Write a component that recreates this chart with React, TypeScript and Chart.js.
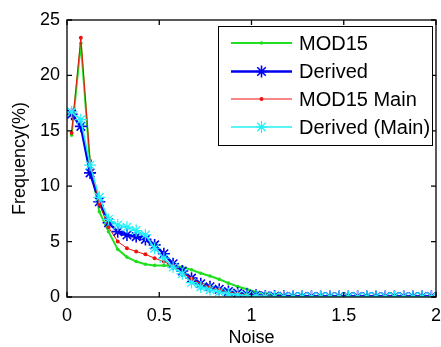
import React, { useEffect, useRef } from "react";
import { Chart, registerables } from "chart.js";

Chart.register(...registerables);

const noise = [
  0.025, 0.075, 0.125, 0.175, 0.225, 0.275, 0.325, 0.375, 0.425, 0.475,
  0.525, 0.575, 0.625, 0.675, 0.725, 0.775, 0.825, 0.875, 0.925, 0.975,
  1.025, 1.075, 1.125, 1.175, 1.225, 1.275, 1.325, 1.375, 1.425, 1.475,
  1.525, 1.575, 1.625, 1.675, 1.725, 1.775, 1.825, 1.875, 1.925, 1.975,
];

const mod15 = [
  14.6, 22.9, 12.0, 7.7, 5.9, 4.3, 3.6, 3.2, 2.95, 2.85,
  2.85, 2.8, 2.7, 2.45, 2.15, 1.9, 1.6, 1.25, 0.95, 0.7,
  0.45, 0.3, 0.2, 0.15, 0.1, 0.07, 0.06, 0.05, 0.05, 0.05,
  0.05, 0.05, 0.05, 0.05, 0.05, 0.05, 0.05, 0.05, 0.05, 0.05,
];

const derived = [
  16.5, 15.4, 11.2, 8.6, 6.7, 5.9, 5.6, 5.45, 5.2, 4.7,
  3.9, 3.0, 2.35, 1.7, 1.2, 0.93, 0.7, 0.5, 0.35, 0.25,
  0.15, 0.1, 0.08, 0.06, 0.05, 0.05, 0.05, 0.05, 0.05, 0.05,
  0.05, 0.05, 0.05, 0.05, 0.05, 0.05, 0.05, 0.05, 0.05, 0.05,
];

const mod15Main = [
  14.8, 23.4, 12.3, 8.4, 6.3, 5.0, 4.4, 4.1, 3.85, 3.5,
  3.2, 2.8, 2.2, 1.65, 1.2, 0.9, 0.65, 0.45, 0.3, 0.2,
  0.12, 0.08, 0.06, 0.05, 0.05, 0.05, 0.05, 0.05, 0.05, 0.05,
  0.05, 0.05, 0.05, 0.05, 0.05, 0.05, 0.05, 0.05, 0.05, 0.05,
];

const derivedMain = [
  16.7, 16.0, 11.9, 9.0, 7.0, 6.5, 6.3, 6.0, 5.6, 4.4,
  3.5, 2.7, 2.1, 1.3, 0.9, 0.65, 0.45, 0.3, 0.2, 0.12,
  0.08, 0.05, 0.03, 0.02, 0.02, 0.02, 0.02, 0.02, 0.02, 0.02,
  0.02, 0.02, 0.02, 0.02, 0.02, 0.02, 0.02, 0.02, 0.02, 0.02,
];

const seriesNames = ["MOD15", "Derived", "MOD15 Main", "Derived (Main)"];
const xTicks = [0, 0.5, 1, 1.5, 2];
const xTickLabels = ["0", "0.5", "1", "1.5", "2"];
const yTicks = [0, 5, 10, 15, 20, 25];
const yTickLabels = ["0", "5", "10", "15", "20", "25"];

const FONT = "'Liberation Sans', Arial, sans-serif";

const toPoints = (vals: number[]) => vals.map((v, i) => ({ x: noise[i], y: v }));

function drawMarker(ctx: CanvasRenderingContext2D, style: string, x: number, y: number, r: number, color: string, lw: number) {
  ctx.save();
  if (style === "circle") {
    ctx.fillStyle = color;
    ctx.beginPath();
    ctx.arc(x, y, r, 0, Math.PI * 2);
    ctx.fill();
  } else {
    ctx.strokeStyle = color;
    ctx.lineWidth = lw;
    ctx.beginPath();
    for (let k = 0; k < 4; k++) {
      const a = (k * Math.PI) / 4;
      ctx.moveTo(x - r * Math.cos(a), y - r * Math.sin(a));
      ctx.lineTo(x + r * Math.cos(a), y + r * Math.sin(a));
    }
    ctx.stroke();
  }
  ctx.restore();
}

const framePlugin = {
  id: "frame",
  afterDatasetsDraw(chart: any) {
    const { ctx, chartArea: a, scales } = chart;
    ctx.save();
    ctx.strokeStyle = "#000";
    ctx.lineWidth = 1.3;
    ctx.strokeRect(a.left, a.top, a.right - a.left, a.bottom - a.top);
    const tl = 5;
    ctx.beginPath();
    xTicks.forEach((t) => {
      const px = scales.x.getPixelForValue(t);
      ctx.moveTo(px, a.bottom);
      ctx.lineTo(px, a.bottom - tl);
      ctx.moveTo(px, a.top);
      ctx.lineTo(px, a.top + tl);
    });
    yTicks.forEach((t) => {
      const py = scales.y.getPixelForValue(t);
      ctx.moveTo(a.left, py);
      ctx.lineTo(a.left + tl, py);
      ctx.moveTo(a.right, py);
      ctx.lineTo(a.right - tl, py);
    });
    ctx.stroke();

    // legend
    const lx = 218, ly = 26, lw = 214, lh = 119;
    ctx.fillStyle = "#fff";
    ctx.fillRect(lx, ly, lw, lh);
    ctx.strokeStyle = "#000";
    ctx.lineWidth = 1;
    ctx.strokeRect(lx + 0.5, ly + 0.5, lw, lh);
    const rows = [43, 71.5, 99, 127];
    chart.data.datasets.forEach((ds: any, i: number) => {
      const y = rows[i];
      ctx.strokeStyle = ds.borderColor;
      ctx.lineWidth = ds.borderWidth;
      ctx.beginPath();
      ctx.moveTo(231, y);
      ctx.lineTo(292, y);
      ctx.stroke();
      drawMarker(ctx, ds.pointStyle, 261.5, y, ds.pointRadius, ds.pointBorderColor, ds.pointBorderWidth);
      ctx.fillStyle = "#000";
      ctx.font = `20px ${FONT}`;
      ctx.textAlign = "left";
      ctx.textBaseline = "middle";
      ctx.fillText(ds.label, 299, y + 1);
    });
    ctx.restore();
  },
};

export default function App() {
  const ref = useRef<HTMLCanvasElement>(null);
  useEffect(() => {
    if (!ref.current) return;
    const chart = new Chart(ref.current, {
      type: "line",
      data: {
        datasets: [
          {
            label: seriesNames[0],
            data: toPoints(mod15),
            borderColor: "#1fe01f",
            backgroundColor: "#1fe01f",
            borderWidth: 2,
            pointStyle: "circle",
            pointRadius: 1.8,
            pointBorderColor: "#1fe01f",
            pointBackgroundColor: "#1fe01f",
            pointBorderWidth: 0,
            order: 4,
          },
          {
            label: seriesNames[1],
            data: toPoints(derived),
            borderColor: "#0000f0",
            backgroundColor: "#0000f0",
            borderWidth: 2.5,
            pointStyle: "star",
            pointRadius: 6,
            pointBorderColor: "#0000f0",
            pointBorderWidth: 1.6,
            order: 3,
          },
          {
            label: seriesNames[2],
            data: toPoints(mod15Main),
            borderColor: "#f01010",
            backgroundColor: "#f01010",
            borderWidth: 1,
            pointStyle: "circle",
            pointRadius: 2,
            pointBorderColor: "#f01010",
            pointBackgroundColor: "#f01010",
            pointBorderWidth: 0,
            order: 2,
          },
          {
            label: seriesNames[3],
            data: toPoints(derivedMain),
            borderColor: "#20f0f8",
            backgroundColor: "#20f0f8",
            borderWidth: 1.5,
            pointStyle: "star",
            pointRadius: 6,
            pointBorderColor: "#20f0f8",
            pointBorderWidth: 1.2,
            order: 1,
          },
        ] as any,
      },
      options: {
        animation: false,
        responsive: true,
        maintainAspectRatio: false,
        layout: { autoPadding: false, padding: { top: 20, right: 5, left: 0, bottom: 0 } },
        plugins: { legend: { display: false }, tooltip: { enabled: false } },
        elements: { line: { tension: 0 } },
        scales: {
          x: {
            type: "linear",
            min: 0,
            max: 2,
            afterBuildTicks: (s: any) => {
              s.ticks = xTicks.map((v) => ({ value: v }));
            },
            afterFit: (s: any) => {
              s.height = 50;
              s.paddingLeft = 0;
              s.paddingRight = 0;
            },
            grid: { display: false, drawTicks: false },
            border: { display: false },
            ticks: {
              color: "#000",
              font: { family: FONT, size: 18 },
              padding: 8,
              maxRotation: 0,
              callback: (_v: any, i: number) => xTickLabels[i],
            },
            title: {
              display: true,
              text: "Noise",
              color: "#000",
              font: { family: FONT, size: 18, lineHeight: 1.0 },
              padding: { top: 0, bottom: 0 },
            },
          },
          y: {
            type: "linear",
            min: 0,
            max: 25,
            afterBuildTicks: (s: any) => {
              s.ticks = yTicks.map((v) => ({ value: v }));
            },
            afterFit: (s: any) => {
              s.width = 67;
              s.paddingTop = 0;
              s.paddingBottom = 0;
            },
            grid: { display: false, drawTicks: false },
            border: { display: false },
            ticks: {
              color: "#000",
              font: { family: FONT, size: 18 },
              padding: 7,
              callback: (_v: any, i: number) => yTickLabels[i],
            },
            title: {
              display: true,
              text: "Frequency(%)",
              color: "#000",
              font: { family: FONT, size: 18 },
              padding: { top: 9, bottom: 0 },
            },
          },
        },
      },
      plugins: [framePlugin],
    });
    return () => chart.destroy();
  }, []);
  return (
    <div style={{ position: "fixed", left: 0, top: 0, width: 441, height: 347, background: "#fff" }}>
      <canvas ref={ref} />
    </div>
  );
}
